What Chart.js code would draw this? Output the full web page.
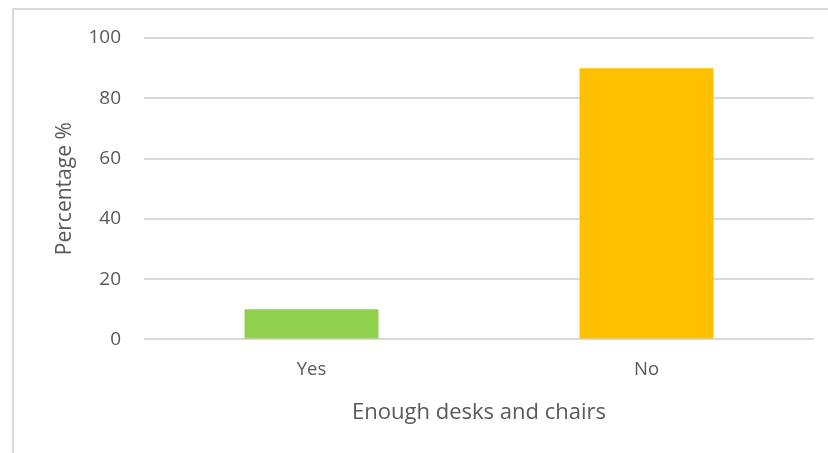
<!DOCTYPE html>
<html><head><meta charset="utf-8">
<script src="https://cdn.jsdelivr.net/npm/chart.js@4/dist/chart.umd.min.js"></script>
<style>
html,body{margin:0;padding:0;background:#fff;}
#wrap{position:relative;width:828px;height:453px;overflow:hidden;}
#frame{position:absolute;left:12px;top:8px;width:900px;height:500px;border-left:2px solid #D9D9D9;border-top:2px solid #D9D9D9;box-sizing:border-box;}
canvas{position:absolute;left:0;top:0;}
</style></head>
<body><div id="wrap"><div id="frame"></div><canvas id="c" width="828" height="453"></canvas></div>
<script>
const categories = ["Yes", "No"];
const percentages = [10, 90];
const barColors = ["#92D050", "#FFC000"];
const yTicks = [0, 20, 40, 60, 80, 100];
const xTitle = "Enough desks and chairs";
const yTitle = "Percentage %";

const fontFam = "'Open Sans', 'Liberation Sans', sans-serif";
new Chart(document.getElementById('c'), {
  type: 'bar',
  data: {
    labels: categories,
    datasets: [{ data: percentages, backgroundColor: barColors, barPercentage: 0.4, categoryPercentage: 1.0 }]
  },
  options: {
    responsive: false,
    animation: false,
    layout: { padding: { left: 52, right: 14, top: 38, bottom: 27 } },
    plugins: { legend: { display: false }, tooltip: { enabled: false } },
    scales: {
      x: {
        grid: { display: false, drawTicks: false },
        border: { display: false },
        ticks: { color: '#595959', font: { family: fontFam, size: 18.5 }, padding: 19 },
        title: { display: true, text: xTitle, color: '#595959', font: { family: fontFam, size: 22 }, padding: { top: 0, bottom: 0 } }
      },
      y: {
        min: 0, max: 100,
        afterBuildTicks: s => { s.ticks = yTicks.map(v => ({ value: v })); },
        afterFit: s => { s.width = 144 - 52; },
        grid: { color: '#D9D9D9', lineWidth: 2, drawTicks: false },
        border: { display: false },
        ticks: { color: '#595959', font: { family: fontFam, size: 19 }, padding: 23 },
        title: { display: true, text: yTitle, color: '#595959', font: { family: fontFam, size: 21 }, padding: { top: 0, bottom: 0 } }
      }
    }
  }
});
</script></body></html>
